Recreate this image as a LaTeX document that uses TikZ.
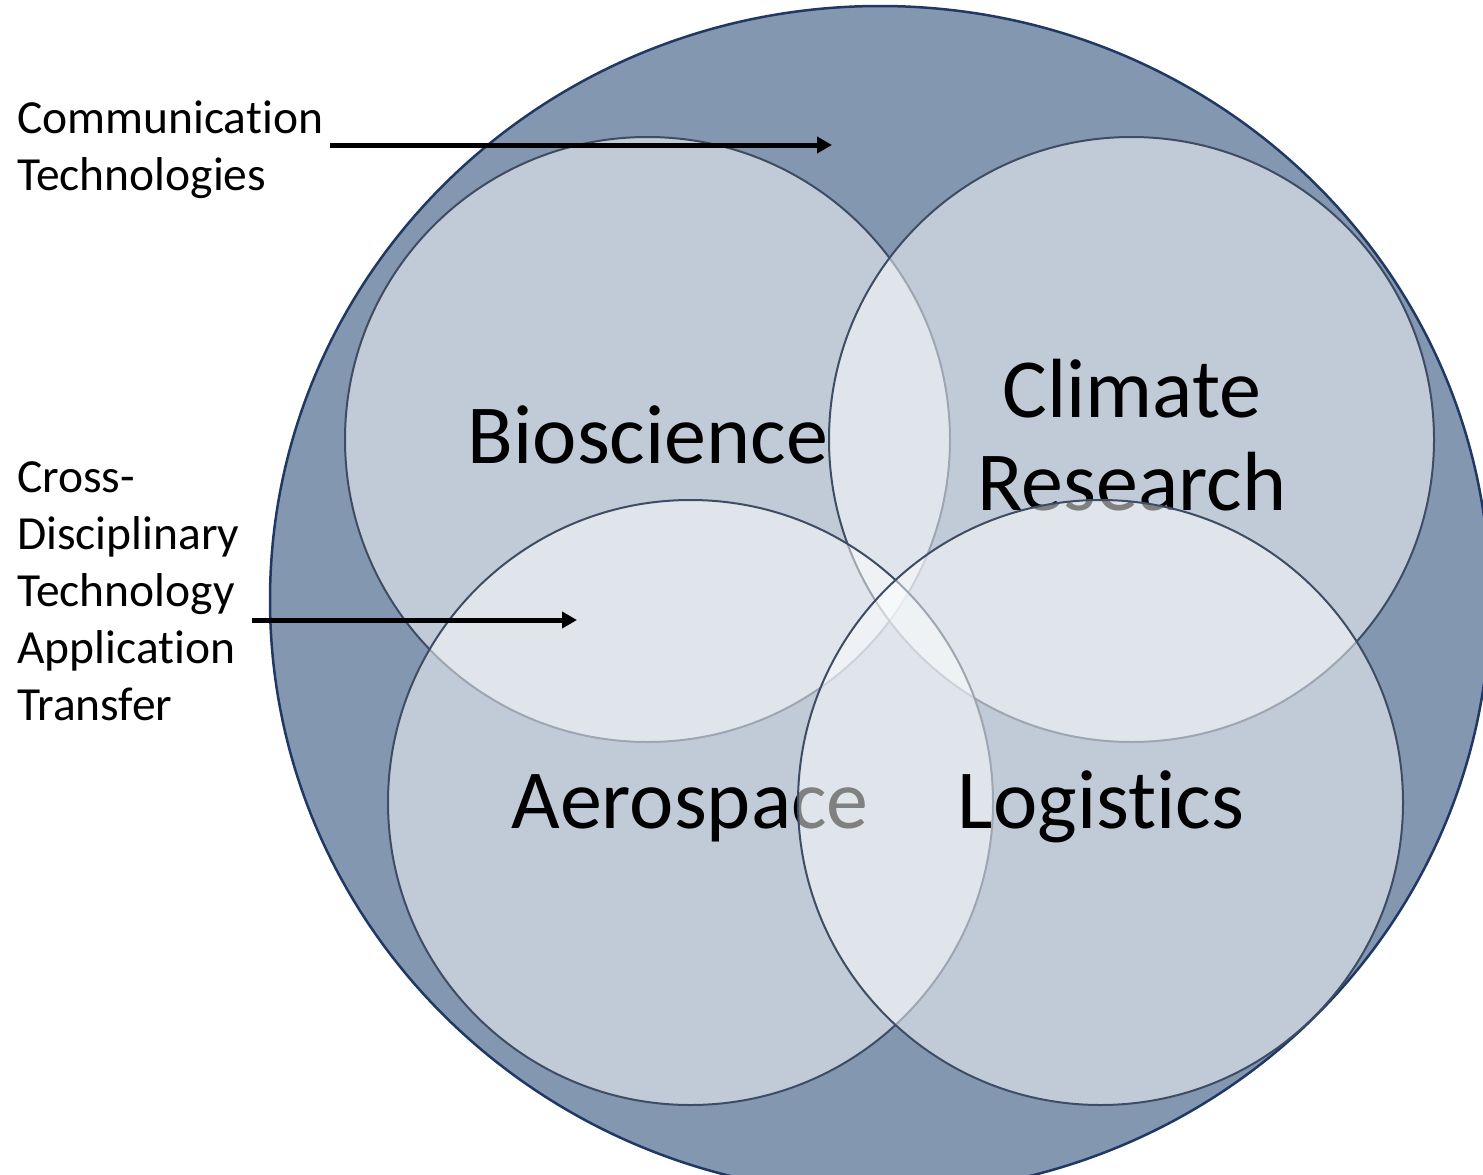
\documentclass[tikz,border=0pt]{standalone}
\usepackage{fontspec}
\setmainfont{Carlito}[RawFeature={-liga;-clig;-calt;-dlig}]
\usetikzlibrary{arrows.meta}
\definecolor{bigfill}{HTML}{8497B0}
\definecolor{bigline}{HTML}{1F3864}
\definecolor{ringline}{HTML}{3E4D63}
\tikzstyle{field_outer} = [draw=bigline, line width=2.5pt, fill=bigfill]
\tikzstyle{field_inner} = [circle, draw=ringline, line width=2pt, fill=white, fill opacity=0.5, minimum size=605pt, inner sep=0pt]
\tikzstyle{label_big} = [anchor=base, font=\fontsize{84}{93}\selectfont, align=center, inner sep=0pt]
\tikzstyle{label_side} = [anchor=base west, font=\fontsize{47.5}{57}\selectfont, align=left, inner sep=0pt]
\tikzstyle{edge_arrow} = [line width=5pt, -{Triangle[length=15pt,width=16pt]}]

\begin{document}
\begin{tikzpicture}[x=1pt,y=-1pt]
\useasboundingbox (0,0) rectangle (1483,1175);
\clip (0,0) rectangle (1483,1175);
\draw[field_outer] (880,600) ellipse [x radius=610pt, y radius=594pt];
\node (bio) at (647.5,439.5) [field_inner] {};
\node (biotext) at (648,463) [label_big] {Bioscience};
\node (clim) at (1131.5,439.5) [field_inner] {};
\node (climtext) at (1132,510) [label_big] {Climate\\Research};
\node (aero) at (690.5,802.5) [field_inner] {};
\node (aerotext) at (690,828) [label_big] {Aerospace};
\node (logi) at (1100.5,802.5) [field_inner] {};
\node (logitext) at (1101,828) [label_big] {Logistics};
\node (comm) at (17,190) [label_side] {Communication\\Technologies};
\node (cross) at (17,720) [label_side] {Cross-\\Disciplinary\\Technology\\Application\\Transfer};
\coordinate (commtip) at (832,145);
\coordinate (crosstip) at (577,620);
\draw[edge_arrow] ([xshift=7pt]comm.east |- commtip) -- (commtip);
\draw[edge_arrow] ([xshift=12pt]cross.east |- crosstip) -- (crosstip);
\end{tikzpicture}
\end{document}
